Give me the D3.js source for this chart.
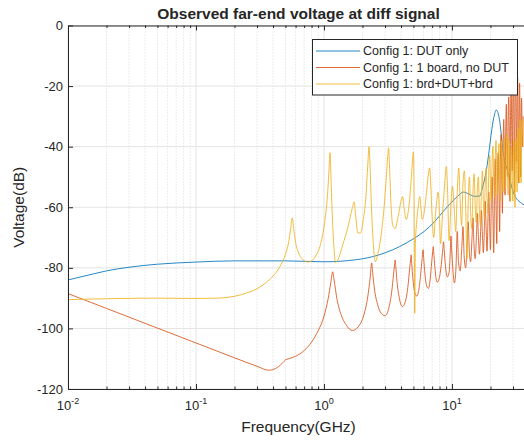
<!DOCTYPE html>
<html>
<head>
<meta charset="utf-8">
<script src="https://cdn.jsdelivr.net/npm/d3@7"></script>
<style>
  body { margin: 0; background: #fff; }
  svg { display: block; }
  text { font-family: "Liberation Sans", Arial, sans-serif; fill: #262626; }
</style>
</head>
<body>
<svg id="chart" width="524" height="443"></svg>
<script>
// ---- data -------------------------------------------------------------
const seriesNames = ["Config 1: DUT only", "Config 1: 1 board, no DUT", "Config 1: brd+DUT+brd"];
const seriesColors = ["#0072BD", "#D95319", "#EDB120"];

const yTicks = [0, -20, -40, -60, -80, -100, -120];
const xTickExponents = [-2, -1, 0, 1];

// DUT only (GHz, dB)
const dutFreq = [0.01, 0.0158, 0.02, 0.03, 0.05, 0.1, 0.2, 0.5, 1.0, 1.8, 2.7, 4.4, 6.7, 9.6, 11, 12.3, 13.5, 15, 16.5,
  17.2, 18.6, 19.5, 20.3, 21.2, 22.2, 23.5, 24.3, 25.1, 27.5, 30.3, 34.5, 36.5, 40];
const dutDb = [-84, -82, -81, -79.8, -78.8, -78.1, -77.7, -77.7, -78.0, -77.3, -75.7, -71.8, -66.4, -59, -56.5, -55, -55.6, -56.4, -56.3,
  -54, -47.6, -41.5, -35.5, -30.5, -27.9, -31, -36, -42, -48.6, -55.3, -58.5, -59.2, -60];

// 1 board, no DUT (GHz, dB)
const boardFreq = [0.01, 0.02, 0.05, 0.1, 0.2, 0.3, 0.37, 0.42, 0.47, 0.5, 0.53, 0.6, 0.7, 0.8, 0.9, 1.0, 1.08, 1.13, 1.17, 1.2, 1.26, 1.35, 1.5,
  1.67, 1.85, 2.05, 2.2, 2.3, 2.36, 2.4, 2.48, 2.62, 2.8, 3.0, 3.2, 3.38, 3.5, 3.56, 3.6, 3.64, 3.72, 3.88, 4.1, 4.3, 4.52, 4.68, 4.76, 4.8,
  4.85, 4.95, 5.1, 5.3, 5.5, 5.7, 5.85, 5.95, 6.02, 6.15, 6.35, 6.55, 6.75, 6.95, 7.08, 7.15, 7.24, 7.4, 7.65, 7.95, 8.25, 8.5, 8.6, 8.7,
  8.9, 9.2, 9.5, 9.72, 9.82, 9.95, 10.15, 10.45, 10.75, 11.0, 11.25, 11.6, 11.95, 12.2, 12.45, 12.8, 13.15, 13.4, 13.65, 14.0, 14.35, 14.6,
  14.85, 15.2, 15.55, 15.8, 16.1, 16.4, 16.75, 17.0, 17.3, 17.6, 17.95, 18.2, 18.5, 18.8, 19.15, 19.4, 19.7, 20.0, 20.3, 20.6, 20.9, 21.2,
  21.55, 21.8, 22.1, 22.4, 22.7, 23.0, 23.3, 23.6, 23.9, 24.2, 24.5, 24.8, 25.1, 25.4, 25.7, 26.0, 26.3, 26.6, 26.9, 27.2, 27.5, 27.8,
  28.1, 28.4, 28.7, 29.0, 29.3, 29.6, 29.9, 30.2, 30.5, 30.8, 31.1, 31.4, 31.7, 32.0, 32.3, 32.6, 32.9, 33.2, 33.5, 33.8, 34.1, 34.4,
  34.7, 35.0, 35.5, 36.0];
const boardDb = [-88.5, -93.4, -99.9, -104.8, -109.7, -112.5, -113.8, -113.2, -111.6, -110.4, -110.0, -109.2, -107.3, -104.5, -100.8, -96,
  -90, -85, -81.3, -84, -90, -95, -99, -100.7, -99.5, -95.5, -89.5, -83, -78.4, -81.5, -87, -92, -95, -95.8, -93.5, -88, -82, -79, -77.4,
  -79.5, -84.5, -90, -92.8, -91.5, -86.5, -80, -77, -75.7, -78.5, -83.5, -87.8, -89.3, -87.5, -82, -77, -74, -77, -82, -86, -86.8, -84,
  -78, -74.5, -73, -76, -81, -84.8, -83.5, -79, -73.5, -71.4, -74, -79.5, -83, -81.5, -74, -69.5, -74, -80, -85, -80, -68, -78, -81, -73,
  -66.4, -76, -80, -72, -64.8, -74, -78, -70, -63.5, -72, -77, -69, -62, -70, -75.5, -68, -61, -69, -75, -66, -58, -67, -74.5, -63, -55,
  -66, -74, -58, -50, -62, -75, -52, -44, -60, -72, -50, -42, -55, -68, -45, -36, -50, -62, -40, -31, -45, -56, -36, -26, -40, -50, -30,
  -23.6, -38, -58, -30, -20, -34, -48, -25, -16, -32, -55, -24, -14.7, -30, -45, -25, -17, -34, -52, -28, -19, -35, -50, -30, -24, -40, -30];

// brd+DUT+brd (GHz, dB)
const chainFreq = [0.01, 0.02, 0.05, 0.1, 0.15, 0.2, 0.25, 0.3, 0.35, 0.4, 0.45, 0.5, 0.53, 0.55, 0.565, 0.58, 0.6, 0.64, 0.7, 0.75, 0.8,
  0.87, 0.95, 1.02, 1.07, 1.1, 1.115, 1.13, 1.16, 1.2, 1.23, 1.28, 1.4, 1.55, 1.66, 1.72, 1.77, 1.84, 1.93, 2.03, 2.13, 2.2, 2.25, 2.29,
  2.35, 2.43, 2.52, 2.62, 2.8, 2.95, 3.07, 3.15, 3.2, 3.25, 3.33, 3.45, 3.6, 3.8, 4.0, 4.12, 4.22, 4.4, 4.6, 4.82, 4.95, 5.0, 5.06, 5.12,
  5.18, 5.3, 5.45, 5.6, 5.72, 5.85, 6.05, 6.3, 6.55, 6.7, 6.82, 7.0, 7.2, 7.45, 7.7, 7.8, 7.95, 8.15, 8.4, 8.75, 9.05, 9.25, 9.5, 9.8,
  10.1, 10.4, 10.7, 11.0, 11.3, 11.6, 11.9, 12.2, 12.5, 12.8, 13.1, 13.4, 13.7, 14.0, 14.3, 14.6, 14.9, 15.2, 15.5, 15.8, 16.1, 16.4,
  16.7, 17.0, 17.3, 17.6, 17.9, 18.2, 18.5, 18.8, 19.1, 19.4, 19.7, 20.0, 20.3, 20.6, 20.9, 21.2, 21.5, 21.8, 22.1, 22.4, 22.7, 23.0,
  23.3, 23.6, 23.9, 24.2, 24.5, 24.8, 25.1, 25.4, 25.7, 26.0, 26.3, 26.6, 26.9, 27.2, 27.5, 27.8, 28.1, 28.4, 28.7, 29.0, 29.3, 29.6,
  29.9, 30.2, 30.5, 30.8, 31.1, 31.4, 31.7, 32.0, 32.3, 32.6, 32.9, 33.2, 33.5, 33.8, 34.1, 34.4, 34.7, 35.0, 35.5, 36.0];
const chainDb = [-90.5, -90.2, -90.0, -90.1, -90.0, -89.4, -88.3, -86.9, -85.0, -82.7, -79.8, -75.5, -71.5, -67, -63.5, -67, -71.5, -75.5,
  -77.6, -78.1, -77.7, -75.8, -71.5, -64, -55, -46, -42, -48, -62, -74, -78.3, -77.5, -72.5, -66, -60.5, -58.2, -63, -68.5, -68.5, -64,
  -56, -46, -40, -46, -60, -72, -78, -76, -69, -60, -50, -43, -40.4, -46, -58, -66, -67, -63, -58, -56.5, -60, -64, -60, -50, -43, -41.7,
  -55, -95, -72, -65, -60, -56.5, -60, -64, -62, -56, -49, -47, -52, -63, -70, -62, -56, -55, -60, -72, -64, -53, -46.6, -55, -71, -60,
  -53, -60, -68, -55, -47, -58, -66, -52, -48, -60, -77, -58, -50, -62, -67, -55, -49, -60, -65, -54, -50, -62, -66, -55, -48, -58, -64,
  -52, -47, -57, -62, -48, -43, -53, -58, -45, -40, -52, -57, -44, -38, -50, -56, -43, -39, -52, -58, -44, -38, -50, -55, -42, -37, -48,
  -54, -41, -36, -49, -56, -42, -38, -50, -58, -44, -40, -52, -58, -43, -38, -50, -60, -42, -37, -48, -55, -40, -34, -46, -52, -38, -31,
  -44, -52, -36, -31, -40];

const seriesFreq = [dutFreq, boardFreq, chainFreq];
const seriesDb = [dutDb, boardDb, chainDb];

// ---- layout ------------------------------------------------------------
const svg = d3.select("#chart");
const plot = { left: 68, top: 25.5, right: 529, bottom: 389 };

const x = d3.scaleLog().domain([0.01, 40]).range([plot.left, plot.right]);
const y = d3.scaleLinear().domain([-120, 0]).range([plot.bottom, plot.top]);

const axisColor = "#262626";

// minor log positions (2..9 per decade)
const minorTicks = [];
for (let e = -2; e <= 1; e++) {
  for (let m = 2; m <= 9; m++) {
    const v = m * Math.pow(10, e);
    if (v <= 40) minorTicks.push(v);
  }
}
const majorTicks = xTickExponents.map(e => Math.pow(10, e));

svg.append("defs").append("clipPath").attr("id", "plotClip")
  .append("rect")
  .attr("x", plot.left).attr("y", plot.top)
  .attr("width", plot.right - plot.left).attr("height", plot.bottom - plot.top);

// grid
const grid = svg.append("g");
grid.selectAll(".xminor").data(minorTicks).join("line")
  .attr("x1", d => x(d)).attr("x2", d => x(d))
  .attr("y1", plot.top).attr("y2", plot.bottom)
  .attr("stroke", "#d9d9d9").attr("stroke-width", 1)
  .attr("stroke-dasharray", "1,2");
grid.selectAll(".xmajor").data(majorTicks).join("line")
  .attr("x1", d => x(d)).attr("x2", d => x(d))
  .attr("y1", plot.top).attr("y2", plot.bottom)
  .attr("stroke", "#e3e3e3").attr("stroke-width", 1);
grid.selectAll(".ymajor").data(yTicks).join("line")
  .attr("x1", plot.left).attr("x2", plot.right)
  .attr("y1", d => y(d)).attr("y2", d => y(d))
  .attr("stroke", "#e3e3e3").attr("stroke-width", 1);

// series
const line = d3.line()
  .x(d => x(d[0]))
  .y(d => y(d[1]))
  .curve(d3.curveMonotoneX);

const lines = svg.append("g").attr("clip-path", "url(#plotClip)");
seriesNames.forEach((name, i) => {
  const pts = seriesFreq[i].map((f, k) => [f, seriesDb[i][k]]);
  lines.append("path")
    .datum(pts)
    .attr("fill", "none")
    .attr("stroke", seriesColors[i])
    .attr("stroke-width", 1)
    .attr("stroke-opacity", 0.85)
    .attr("stroke-linejoin", "round")
    .attr("d", line);
});

// axes (ticks pointing inward)
const styleAxis = g => {
  g.select(".domain").attr("stroke", axisColor).attr("stroke-width", 1);
  g.selectAll(".tick line").attr("stroke", axisColor);
  g.selectAll(".tick text").remove();
};

svg.append("g").attr("transform", `translate(0,${plot.bottom})`)
  .call(d3.axisBottom(x).tickValues(majorTicks).tickSizeInner(-5).tickSizeOuter(0).tickFormat(""))
  .call(styleAxis);
svg.append("g").attr("transform", `translate(0,${plot.bottom})`)
  .call(d3.axisBottom(x).tickValues(minorTicks).tickSizeInner(-2.5).tickSizeOuter(0).tickFormat(""))
  .call(g => g.select(".domain").remove())
  .call(styleAxis);
svg.append("g").attr("transform", `translate(0,${plot.top})`)
  .call(d3.axisTop(x).tickValues(majorTicks).tickSizeInner(-5).tickSizeOuter(0).tickFormat(""))
  .call(styleAxis);
svg.append("g").attr("transform", `translate(0,${plot.top})`)
  .call(d3.axisTop(x).tickValues(minorTicks).tickSizeInner(-2.5).tickSizeOuter(0).tickFormat(""))
  .call(g => g.select(".domain").remove())
  .call(styleAxis);
svg.append("g").attr("transform", `translate(${plot.left},0)`)
  .call(d3.axisLeft(y).tickValues(yTicks).tickSizeInner(-5).tickSizeOuter(0).tickFormat(""))
  .call(styleAxis);

// x tick labels: 10^e
const xl = svg.append("g");
xTickExponents.forEach(e => {
  const t = xl.append("text")
    .attr("x", x(Math.pow(10, e)))
    .attr("y", 410)
    .attr("text-anchor", "middle")
    .attr("font-size", 13);
  t.append("tspan").text("10");
  t.append("tspan").attr("font-size", 9).attr("dy", -6).text(String(e));
});

// y tick labels
svg.append("g").selectAll("text").data(yTicks).join("text")
  .attr("x", plot.left - 5)
  .attr("y", d => y(d))
  .attr("dy", "0.35em")
  .attr("text-anchor", "end")
  .attr("font-size", 13)
  .text(d => d);

// axis titles
svg.append("text")
  .attr("x", (plot.left + plot.right) / 2).attr("y", 432)
  .attr("text-anchor", "middle").attr("font-size", 15.5)
  .text("Frequency(GHz)");
svg.append("text")
  .attr("transform", `translate(24,${(plot.top + plot.bottom) / 2}) rotate(-90)`)
  .attr("text-anchor", "middle").attr("font-size", 15.5)
  .text("Voltage(dB)");
svg.append("text")
  .attr("x", (plot.left + plot.right) / 2).attr("y", 19)
  .attr("text-anchor", "middle").attr("font-size", 15.5).attr("font-weight", "bold")
  .attr("fill", "#000")
  .text("Observed far-end voltage at diff signal");

// legend
const legend = svg.append("g");
legend.append("rect")
  .attr("x", 312.5).attr("y", 39.5).attr("width", 205).attr("height", 55.5)
  .attr("fill", "#fff").attr("stroke", axisColor).attr("stroke-width", 1);
seriesNames.forEach((name, i) => {
  const ly = 51 + i * 16.5;
  legend.append("line")
    .attr("x1", 316).attr("x2", 360).attr("y1", ly).attr("y2", ly)
    .attr("stroke", seriesColors[i]).attr("stroke-width", 1).attr("stroke-opacity", 0.85);
  legend.append("text")
    .attr("x", 363).attr("y", ly).attr("dy", "0.35em")
    .attr("font-size", 12.5).attr("fill", "#000")
    .text(name);
});
</script>
</body>
</html>
